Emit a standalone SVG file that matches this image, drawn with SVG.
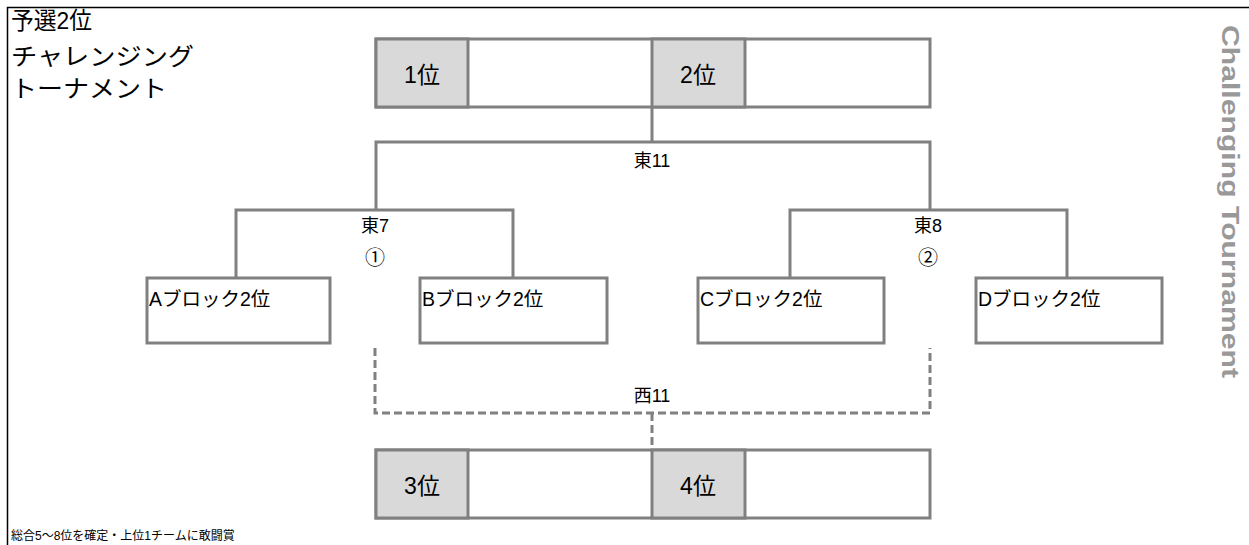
<svg xmlns="http://www.w3.org/2000/svg" width="1249" height="545" viewBox="0 0 1249 545">
<style>
.t{font-family:"Liberation Sans","Noto Sans CJK JP",sans-serif;fill:#000}
.box{fill:#fff;stroke:#808080;stroke-width:3}
.cell{fill:#d9d9d9;stroke:#808080;stroke-width:3}
.ln{fill:none;stroke:#808080;stroke-width:3}
.dl{fill:none;stroke:#808080;stroke-width:3;stroke-dasharray:8,4}
.rk{font-size:23px;text-anchor:middle}
.lb{font-size:18px;text-anchor:middle}
.bl{font-size:19.5px}
</style>
<rect width="1249" height="545" fill="#fff"/>
<path d="M7.5,545 V7.5 H1249" fill="none" stroke="#000" stroke-width="1.5"/>
<g id="title">
<text class="t" x="11" y="29" font-size="24" textLength="81" lengthAdjust="spacingAndGlyphs">予選2位</text>
<text class="t" x="11" y="65" font-size="24" textLength="183" lengthAdjust="spacingAndGlyphs">チャレンジング</text>
<text class="t" x="11" y="97" font-size="24" textLength="156" lengthAdjust="spacingAndGlyphs">トーナメント</text>
</g>
<g id="side">
<text x="1222" y="25" transform="rotate(90 1222 25)" font-family="'Liberation Sans',sans-serif" font-weight="bold" font-size="24" fill="#999" textLength="353" lengthAdjust="spacingAndGlyphs">Challenging Tournament</text>
</g>
<g id="connectors">
<path class="ln" d="M652,107 V142 M376,210 V142 H930 V210 M236,278 V210 H513 V278 M790,278 V210 H1067 V278"/>
<path class="dl" d="M375,348 V413 H930 V348 M652,413 V450"/>
</g>
<g id="top">
<rect class="box" x="376" y="39" width="554" height="68"/>
<rect class="cell" x="376" y="39" width="92" height="68"/>
<rect class="cell" x="652" y="39" width="93" height="68"/>
<text class="t rk" x="422" y="83">1位</text>
<text class="t rk" x="698" y="83">2位</text>
</g>
<g id="e11"><text class="t lb" x="652" y="167">東11</text></g>
<g id="e7"><text class="t lb" x="375" y="232">東7</text><text class="t" x="375" y="265" font-size="20" text-anchor="middle">①</text></g>
<g id="e8"><text class="t lb" x="928" y="232">東8</text><text class="t" x="928" y="265" font-size="20" text-anchor="middle">②</text></g>
<g id="a"><rect class="box" x="147" y="278" width="183" height="65"/><text class="t bl" x="149" y="306">Aブロック2位</text></g>
<g id="b"><rect class="box" x="420" y="278" width="187" height="65"/><text class="t bl" x="422" y="306">Bブロック2位</text></g>
<g id="c"><rect class="box" x="698" y="278" width="186" height="65"/><text class="t bl" x="700" y="306">Cブロック2位</text></g>
<g id="d"><rect class="box" x="976" y="278" width="186" height="65"/><text class="t bl" x="978" y="306">Dブロック2位</text></g>
<g id="w11"><text class="t lb" x="652" y="402">西11</text></g>
<g id="bottom">
<rect class="box" x="376" y="450" width="554" height="68"/>
<rect class="cell" x="376" y="450" width="92" height="68"/>
<rect class="cell" x="652" y="450" width="93" height="68"/>
<text class="t rk" x="422" y="494">3位</text>
<text class="t rk" x="698" y="494">4位</text>
</g>
<g id="footer"><text class="t" x="11" y="540" font-size="12">総合5〜8位を確定・上位1チームに敢闘賞</text></g>
</svg>
